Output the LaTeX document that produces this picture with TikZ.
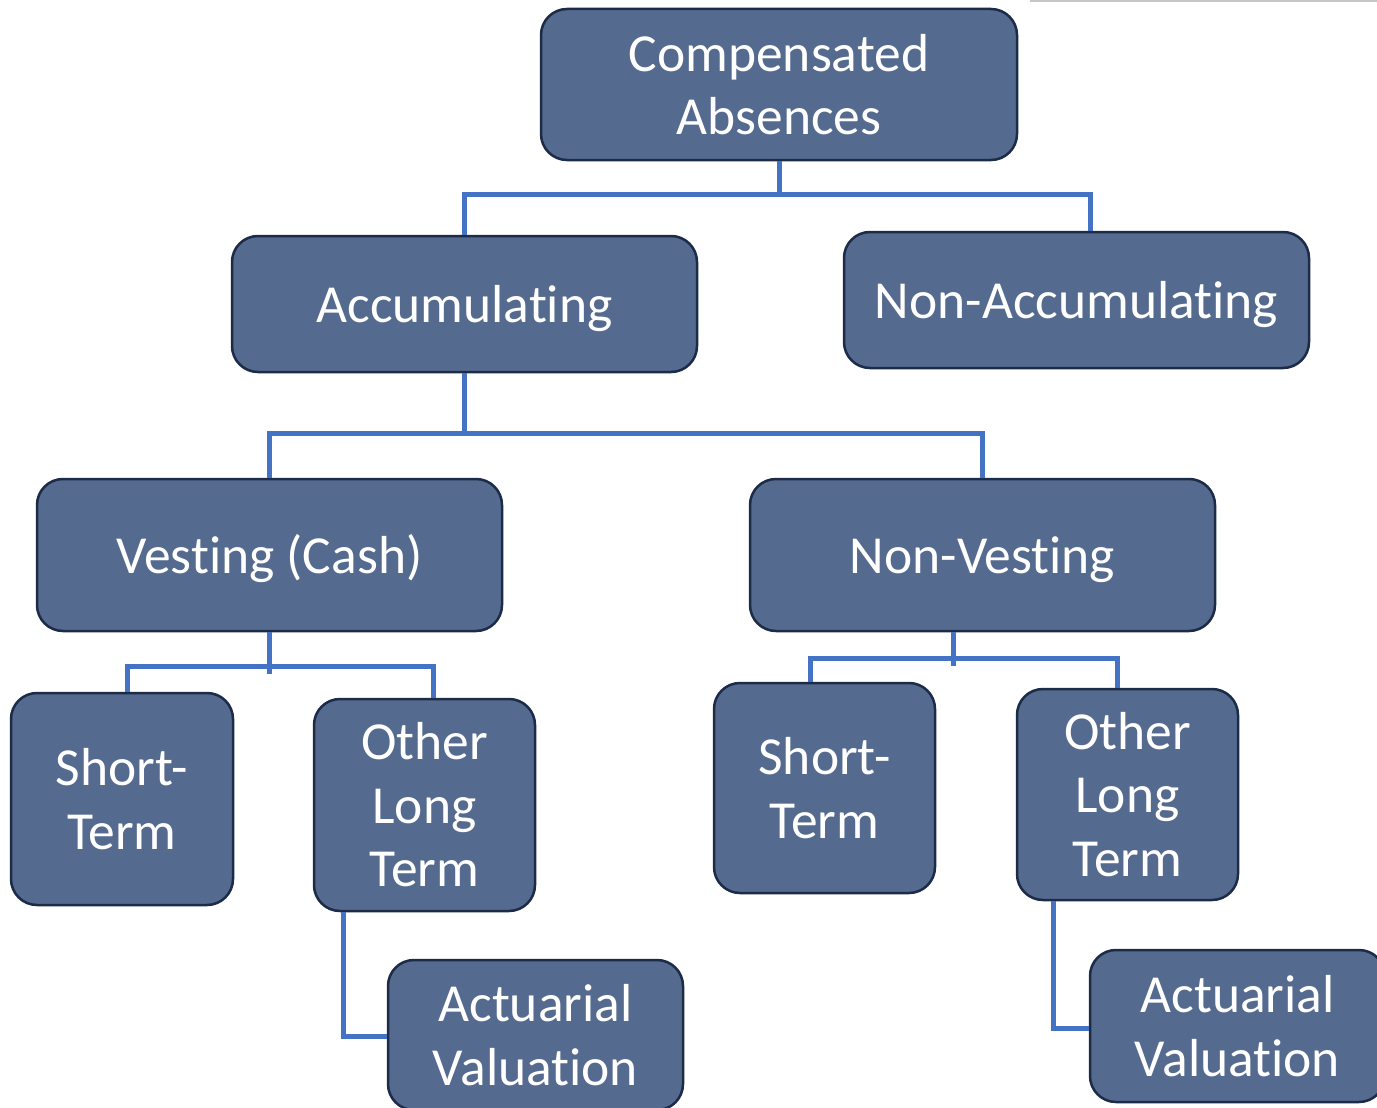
\documentclass[tikz,border=0pt]{standalone}
\usepackage{fontspec}
\setmainfont{Carlito}[Ligatures=NoCommon]
\usetikzlibrary{calc}
\definecolor{boxfill}{RGB}{85,106,143}
\definecolor{boxedge}{RGB}{28,43,72}
\definecolor{linkblue}{RGB}{68,114,196}
\tikzset{
  card/.style={draw=boxedge, line width=2.5, fill=boxfill, rounded corners=26,
    text=white, align=center, inner sep=0,
    font=\fontsize{53.5}{63.5}\selectfont},
  oneline/.style={card, text height=40, text depth=4},
  link/.style={draw=linkblue, line width=5, line join=miter}
}
\begin{document}
\begin{tikzpicture}[x=1pt, y=-1pt]
\useasboundingbox (0,0) rectangle (1377,1108);
\clip (0,0) rectangle (1377,1108);
\fill[white] (0,0) rectangle (1377,1108);
% thin rule along the top edge
\draw[gray!45, line width=2] (1030,1) -- (1377,1);

% boxes
\node[card, minimum width=476, minimum height=151] (comp) at (779,84.5) {Compensated\\Absences};
\node[oneline, minimum width=465, minimum height=136] (acc) at (464.5,304) {Accumulating};
\node[oneline, minimum width=465, minimum height=136] (nacc) at (1076.5,300) {Non-Accumulating};
\node[oneline, minimum width=465, minimum height=152] (vest) at (269.5,555) {Vesting (Cash)};
\node[oneline, minimum width=465, minimum height=152] (nvest) at (982.5,555) {Non-Vesting};
\node[card, minimum width=222, minimum height=212] (stA) at (122,799) {Short-\\Term};
\node[card, minimum width=221, minimum height=212] (olA) at (424.5,805) {Other\\Long\\Term};
\node[card, minimum width=295, minimum height=150] (avA) at (535.5,1035) {Actuarial\\Valuation};
\node[card, minimum width=221, minimum height=210] (stB) at (824.5,788) {Short-\\Term};
\node[card, minimum width=221, minimum height=211] (olB) at (1127.5,794.5) {Other\\Long\\Term};
\node[card, minimum width=295, minimum height=152] (avB) at (1237.5,1026) {Actuarial\\Valuation};

% connectors
\draw[link] (comp.south) -- (comp.south |- 0,196);
\draw[link] (acc.north) |- ($(nacc.north)+(13.5,-36)$) -- ($(nacc.north)+(13.5,0)$);

\draw[link] (acc.south) -- (acc.south |- 0,435);
\draw[link] (vest.north) |- ($(nvest.north)+(0,-44)$) -- (nvest.north);

\draw[link] (vest.south) -- ($(vest.south)+(0,42)$);
\draw[link] ($(stA.north)+(5,0)$) |- ($(olA.north)+(8.5,-31)$) -- ($(olA.north)+(8.5,0)$);

\draw[link] ($(nvest.south)+(-29.5,0)$) -- ($(nvest.south)+(-29.5,34)$);
\draw[link] ($(stB.north)+(-14.5,0)$) |- ($(olB.north)+(-10.5,-29)$) -- ($(olB.north)+(-10.5,0)$);

\draw[link] ($(olA.south)+(-81.5,0)$) |- ($(avA.west)+(0,1)$);
\draw[link] ($(olB.south)+(-74.5,0)$) |- ($(avB.west)+(0,2)$);
\end{tikzpicture}
\end{document}
